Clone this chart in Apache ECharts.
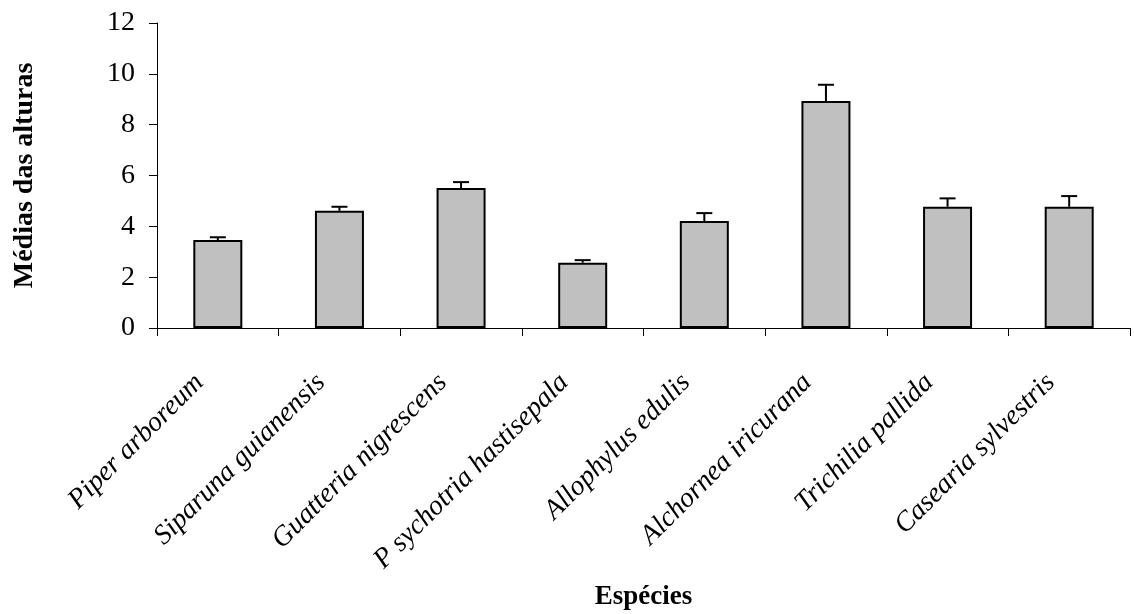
<!DOCTYPE html>
<html>
<head>
<meta charset="utf-8">
<script src="https://cdn.jsdelivr.net/npm/echarts@6/dist/echarts.min.js"></script>
<style>
html,body{margin:0;padding:0;background:#fff;}
#chart{width:1134px;height:614px;}
</style>
</head>
<body>
<div id="chart"></div>
<script>
const categories = ['Piper arboreum','Siparuna guianensis','Guatteria nigrescens','P sychotria hastisepala','Allophylus edulis','Alchornea iricurana','Trichilia pallida','Casearia sylvestris'];
const means = [3.46, 4.61, 5.51, 2.57, 4.21, 8.93, 4.77, 4.77];
const errors = [0.11, 0.16, 0.23, 0.10, 0.31, 0.64, 0.33, 0.42];
const yTicks = [0, 2, 4, 6, 8, 10, 12];

const FONT = '"Liberation Serif", "Times New Roman", serif';
const errData = categories.map((c, i) => [i, means[i], means[i] + errors[i]]);

const chart = echarts.init(document.getElementById('chart'), null, {renderer: 'canvas'});
chart.setOption({
  animation: false,
  backgroundColor: '#fff',
  grid: {left: 157, right: 4, top: 23, bottom: 286, containLabel: false, outerBoundsMode: 'none'},
  xAxis: {
    type: 'category',
    data: categories,
    name: 'Espécies',
    nameLocation: 'middle',
    nameGap: 256,
    nameTextStyle: {fontFamily: FONT, fontSize: 27, fontWeight: 'bold', color: '#000'},
    axisLine: {lineStyle: {color: '#000', width: 1}},
    axisTick: {show: true, length: 8, lineStyle: {color: '#000'}},
    axisLabel: {rotate: 45, margin: 32, padding: [0, 26, 0, 0], fontFamily: FONT, fontSize: 28, fontStyle: 'italic', color: '#000', interval: 0}
  },
  yAxis: {
    type: 'value',
    min: yTicks[0], max: yTicks[yTicks.length - 1], interval: 2,
    name: 'Médias das alturas',
    nameLocation: 'middle',
    nameGap: 118,
    nameTextStyle: {fontFamily: FONT, fontSize: 28, fontWeight: 'bold', color: '#000'},
    axisLine: {show: true, lineStyle: {color: '#000', width: 1}},
    axisTick: {show: true, length: 8, lineStyle: {color: '#000'}},
    axisLabel: {margin: 22, fontFamily: FONT, fontSize: 28, color: '#000'},
    splitLine: {show: false}
  },
  series: [
    {
      type: 'bar',
      data: means,
      barWidth: 49,
      itemStyle: {color: '#c0c0c0', borderColor: '#000', borderWidth: 2}
    },
    {
      type: 'custom',
      data: errData,
      z: 5,
      renderItem: function (params, api) {
        const x = api.value(0);
        const p0 = api.coord([x, api.value(1)]);
        const p1 = api.coord([x, api.value(2)]);
        const half = 8;
        const st = {stroke: '#000', lineWidth: 2};
        return {
          type: 'group',
          children: [
            {type: 'line', shape: {x1: p0[0], y1: p0[1], x2: p1[0], y2: p1[1]}, style: st},
            {type: 'line', shape: {x1: p1[0] - half, y1: p1[1], x2: p1[0] + half, y2: p1[1]}, style: st}
          ]
        };
      }
    }
  ]
});
</script>
</body>
</html>
